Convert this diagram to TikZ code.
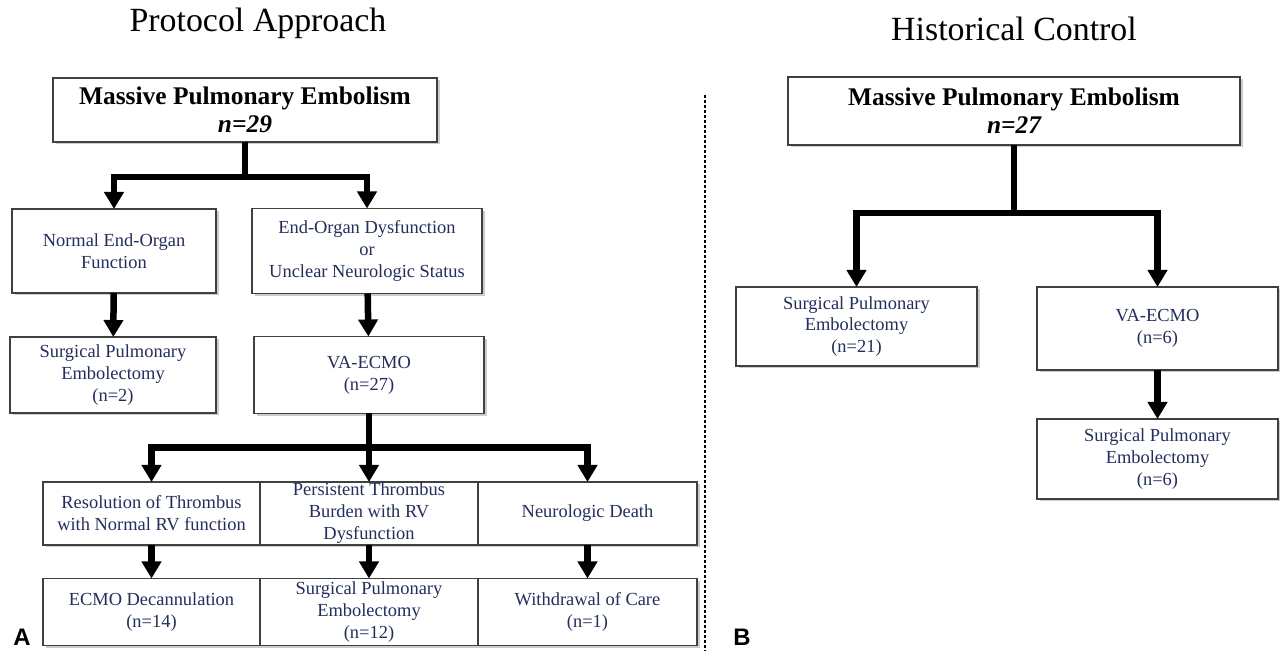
\documentclass[tikz,border=0pt]{standalone}
\usepackage{fontspec}
\setmainfont{Liberation Serif}
\newfontfamily\panelfont{Liberation Sans}
\usetikzlibrary{arrows.meta,shadows}
\definecolor{navy}{RGB}{36,46,92}
\tikzset{
  box/.style={draw=black!75,line width=1.1bp,fill=white,inner sep=0pt,outer sep=0pt,
    align=center,text=navy,font=\fontsize{18.5}{22}\selectfont,
    drop shadow={shadow xshift=2.5bp,shadow yshift=-2.5bp,fill=black!40}},
  headbox/.style={box,text=black,font=\fontsize{25.5}{28}\selectfont\bfseries},
  flow/.style={->,line width=6.5bp,line join=miter},
}
\begin{document}
\begin{tikzpicture}[>={Triangle[width=19bp,length=17bp]}]
%%
\useasboundingbox (0bp,0bp) rectangle (1280bp,651bp);
\node (ttlA) at (258bp,628bp) {\fontsize{34}{38}\selectfont Protocol Approach};
\node (ttlB) at (1014bp,622bp) {\fontsize{34}{38}\selectfont Historical Control};
\node (lblA) at (22bp,14bp) {\panelfont\fontsize{24}{28}\selectfont\bfseries A};
\node (lblB) at (742bp,14bp) {\panelfont\fontsize{24}{28}\selectfont\bfseries B};
\coordinate (sepT) at (705bp,556bp);
\coordinate (sepB) at (705bp,0bp);
  \node (mpeA) at (245bp,541bp) [headbox,minimum width=384bp,minimum height=64bp] {Massive Pulmonary Embolism\\\itshape n=29};
  \node (norm) at (114bp,400bp) [box,minimum width=204bp,minimum height=84bp] {Normal End-Organ\\Function};
  \node (dysf) at (367bp,400bp) [box,minimum width=230bp,minimum height=85bp] {End-Organ Dysfunction\\or\\Unclear Neurologic Status};
  \node (speA) at (113bp,276bp) [box,minimum width=206bp,minimum height=76bp] {Surgical Pulmonary\\Embolectomy\\(n=2)};
  \node (ecmoA) at (369bp,276bp) [box,minimum width=230bp,minimum height=77bp] {VA-ECMO\\(n=27)};
  \node (reso) at (151.5bp,137.5bp) [box,minimum width=217bp,minimum height=63bp] {Resolution of Thrombus\\with Normal RV function};
  \node (pers) at (369bp,137.5bp) [box,minimum width=218bp,minimum height=63bp] {Persistent Thrombus\\Burden with RV\\Dysfunction};
  \node (neuro) at (587.5bp,137.5bp) [box,minimum width=219bp,minimum height=63bp] {Neurologic Death};
  \node (decan) at (151.5bp,39bp) [box,minimum width=217bp,minimum height=67bp] {ECMO Decannulation\\(n=14)};
  \node (spe12) at (369bp,39bp) [box,minimum width=218bp,minimum height=67bp] {Surgical Pulmonary\\Embolectomy\\(n=12)};
  \node (wdraw) at (587.5bp,39bp) [box,minimum width=219bp,minimum height=67bp] {Withdrawal of Care\\(n=1)};
  \node (mpeB) at (1014bp,540bp) [headbox,minimum width=452bp,minimum height=68bp] {Massive Pulmonary Embolism\\\itshape n=27};
  \node (speB) at (856.5bp,324.5bp) [box,minimum width=241bp,minimum height=79bp] {Surgical Pulmonary\\Embolectomy\\(n=21)};
  \node (ecmoB) at (1157.5bp,322.5bp) [box,minimum width=241bp,minimum height=83bp] {VA-ECMO\\(n=6)};
  \node (spe6) at (1157.5bp,192bp) [box,minimum width=241bp,minimum height=80bp] {Surgical Pulmonary\\Embolectomy\\(n=6)};
  \draw [line width=1.2bp,dash pattern=on 3bp off 2bp] (sepT) -- (sepB);
  \draw [flow] (mpeA.south) -- ++(0bp,-35bp) -| (norm.north);
  \draw [flow] (mpeA.south) -- ++(0bp,-35bp) -| (dysf.north);
  \draw [flow] (norm) -- (speA);
  \draw [flow] (dysf) -- (ecmoA);
  \draw [flow] (ecmoA.south) -- ++(0bp,-34bp) -| (reso.north);
  \draw [flow] (ecmoA.south) -- ++(0bp,-34bp) -| (pers.north);
  \draw [flow] (ecmoA.south) -- ++(0bp,-34bp) -| (neuro.north);
  \draw [flow] (reso) -- (decan);
  \draw [flow] (pers) -- (spe12);
  \draw [flow] (neuro) -- (wdraw);
  \draw [flow] (mpeB.south) -- ++(0bp,-68bp) -| (speB.north);
  \draw [flow] (mpeB.south) -- ++(0bp,-68bp) -| (ecmoB.north);
  \draw [flow] (ecmoB) -- (spe6);
%
\end{tikzpicture}
\end{document}
